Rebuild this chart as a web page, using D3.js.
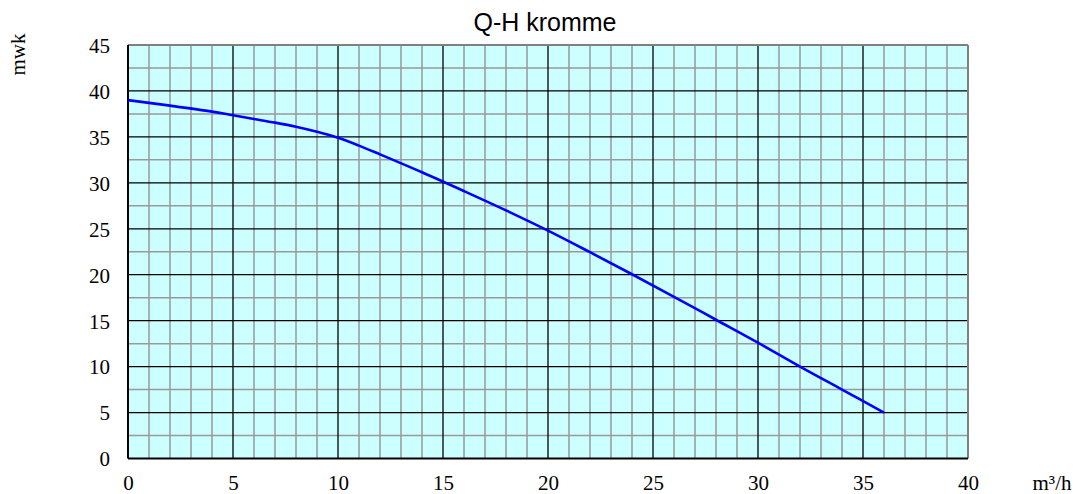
<!DOCTYPE html>
<html>
<head>
<meta charset="utf-8">
<script src="https://cdn.jsdelivr.net/npm/d3@7"></script>
<style>
  html, body { margin: 0; padding: 0; background: #fff; }
  svg { display: block; }
</style>
</head>
<body>
<svg id="chart" width="1078" height="494"></svg>
<script>
const title = "Q-H kromme";
const yAxisLabel = "mwk";
const xAxisLabel = "m³/h";
const flow = [0, 2, 4, 5, 6, 7, 8, 9, 10, 11, 12, 14, 16, 18, 20, 22, 24, 26, 28, 30, 32, 34, 36];
const head = [39.0, 38.4, 37.75, 37.35, 36.95, 36.55, 36.1, 35.55, 34.9, 34.05, 33.1, 31.15, 29.1, 27.0, 24.8, 22.45, 20.05, 17.6, 15.1, 12.6, 10.0, 7.5, 5.0];
const xTicks = [0, 5, 10, 15, 20, 25, 30, 35, 40];
const yTicks = [0, 5, 10, 15, 20, 25, 30, 35, 40, 45];

const svg = d3.select("#chart");
const m = { left: 128, right: 968, top: 45, bottom: 458.5 };

const x = d3.scaleLinear().domain([0, 40]).range([m.left, m.right]);
const y = d3.scaleLinear().domain([0, 45]).range([m.bottom, m.top]);

// background
svg.append("rect")
  .attr("x", m.left).attr("y", m.top)
  .attr("width", m.right - m.left).attr("height", m.bottom - m.top)
  .attr("fill", "#ccffff");

// minor grid
const minorX = d3.range(1, 40).filter(v => v % 5 !== 0);
const minorY = d3.range(2.5, 45, 5);
const g = svg.append("g");
g.selectAll(".mx").data(minorX).join("line")
  .attr("x1", d => x(d)).attr("x2", d => x(d))
  .attr("y1", m.top).attr("y2", m.bottom)
  .attr("stroke", "#999999").attr("stroke-width", 1.5);
g.selectAll(".my").data(minorY).join("line")
  .attr("x1", m.left).attr("x2", m.right)
  .attr("y1", d => y(d)).attr("y2", d => y(d))
  .attr("stroke", "#999999").attr("stroke-width", 1.5);
// major grid
g.selectAll(".Mx").data(xTicks.slice(1, -1)).join("line")
  .attr("x1", d => x(d)).attr("x2", d => x(d))
  .attr("y1", m.top).attr("y2", m.bottom)
  .attr("stroke", "#000").attr("stroke-width", 1.3);
g.selectAll(".My").data(yTicks.slice(1, -1)).join("line")
  .attr("x1", m.left).attr("x2", m.right)
  .attr("y1", d => y(d)).attr("y2", d => y(d))
  .attr("stroke", "#000").attr("stroke-width", 1.3);

// border: top/right gray, left/bottom black
svg.append("line").attr("x1", m.left).attr("x2", m.right).attr("y1", m.top).attr("y2", m.top)
  .attr("stroke", "#808080").attr("stroke-width", 2);
svg.append("line").attr("x1", m.right).attr("x2", m.right).attr("y1", m.top).attr("y2", m.bottom)
  .attr("stroke", "#808080").attr("stroke-width", 2);
svg.append("line").attr("x1", m.left).attr("x2", m.right).attr("y1", m.bottom).attr("y2", m.bottom)
  .attr("stroke", "#000").attr("stroke-width", 2);
svg.append("line").attr("x1", m.left).attr("x2", m.left).attr("y1", m.top).attr("y2", m.bottom)
  .attr("stroke", "#000").attr("stroke-width", 2);

// curve
const pts = flow.map((q, i) => [q, head[i]]);
svg.append("path")
  .datum(pts)
  .attr("fill", "none")
  .attr("stroke", "#0000ff")
  .attr("stroke-width", 2.6)
  .attr("d", d3.line().x(d => x(d[0])).y(d => y(d[1])).curve(d3.curveCatmullRom.alpha(0.5)));

// axes tick labels
const serif = "'Liberation Serif', 'Times New Roman', serif";
const xAxis = d3.axisBottom(x).tickValues(xTicks).tickSize(0).tickPadding(0);
const xg = svg.append("g").attr("transform", `translate(0, ${m.bottom})`).call(xAxis);
xg.select(".domain").remove();
xg.selectAll("text").attr("font-family", serif).attr("font-size", 21).attr("fill", "#000")
  .attr("dy", null).attr("y", 31);

const yAxis = d3.axisLeft(y).tickValues(yTicks).tickSize(0).tickPadding(0);
const yg = svg.append("g").attr("transform", `translate(${m.left - 18}, 0)`).call(yAxis);
yg.select(".domain").remove();
yg.selectAll("text").attr("font-family", serif).attr("font-size", 21).attr("fill", "#000")
  .attr("dy", "0.35em");

// title
svg.append("text")
  .attr("x", 545).attr("y", 31)
  .attr("text-anchor", "middle")
  .attr("font-family", "'Liberation Sans', Arial, sans-serif")
  .attr("font-size", 25)
  .attr("fill", "#000")
  .text(title);

// axis titles
svg.append("text")
  .attr("transform", "translate(25, 54.5) rotate(-90)")
  .attr("text-anchor", "middle")
  .attr("font-family", serif)
  .attr("font-size", 21)
  .attr("fill", "#000")
  .text(yAxisLabel);

svg.append("text")
  .attr("x", 1052).attr("y", 490)
  .attr("text-anchor", "middle")
  .attr("font-family", serif)
  .attr("font-size", 21)
  .attr("fill", "#000")
  .text(xAxisLabel);
</script>
</body>
</html>
